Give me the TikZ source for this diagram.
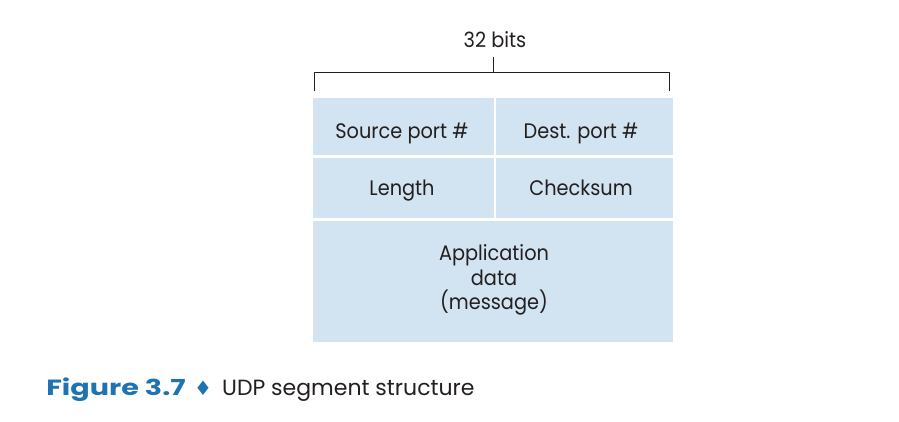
\documentclass[tikz,border=0pt]{standalone}
\usepackage{fontspec}
\setmainfont{Poppins}
\newfontfamily\symfont{DejaVu Sans}
\definecolor{boxblue}{HTML}{D2E4F1}
\definecolor{capblue}{HTML}{1F73B0}
\definecolor{txt}{HTML}{231F20}
\begin{document}
\begin{tikzpicture}[x=1pt,y=-1pt,
  field/.style={fill=boxblue,draw=none},
  lbl/.style={font=\fontsize{21}{24.5}\selectfont,text=txt,align=center,inner sep=0pt,xscale=0.92,transform shape},
  blbl/.style={lbl,anchor=base}]
\useasboundingbox (0,0) rectangle (899,421);
% fields
\fill[field] (313,98) rectangle (493.5,155);
\fill[field] (495.5,98) rectangle (673,155);
\fill[field] (313,158) rectangle (493.5,218);
\fill[field] (495.5,158) rectangle (673,218);
\fill[field] (313,220.5) rectangle (673,342);
\node[blbl] (src) at (402,138) {Source port \#};
\node[blbl] (dst) at (581,138) {Dest. port \#};
\node[blbl] (len) at (402,195) {Length};
\node[blbl] (chk) at (581,195) {Checksum};
\node[lbl] (app) at (494,280) {Application\\data\\(message)};
% bracket
\coordinate (bl) at (314.5,91);
\coordinate (br) at (669.5,91);
\coordinate (bc) at (493.5,72.5);
\coordinate (bt) at (493.5,57);
\draw[line width=1pt,txt] (bl) |- (br|-bc) -- (br);
\draw[line width=1pt,txt] (bc) -- (bt);
\node[blbl] (bits) at (495,47) {32 bits};
% caption
\node[anchor=base west,inner sep=0pt,font=\fontsize{22}{24}\selectfont\bfseries,text=capblue,xscale=1.3,transform shape] (fig) at (46,395) {Figure 3.7};
\node[anchor=base west,inner sep=0pt,font=\symfont\fontsize{20}{22}\selectfont,text=capblue] (dia) at (194,395) {♦};
\node[anchor=base west,inner sep=0pt,font=\fontsize{22}{24}\selectfont,text=txt] (cap) at (222,395) {UDP segment structure};
\end{tikzpicture}
\end{document}
